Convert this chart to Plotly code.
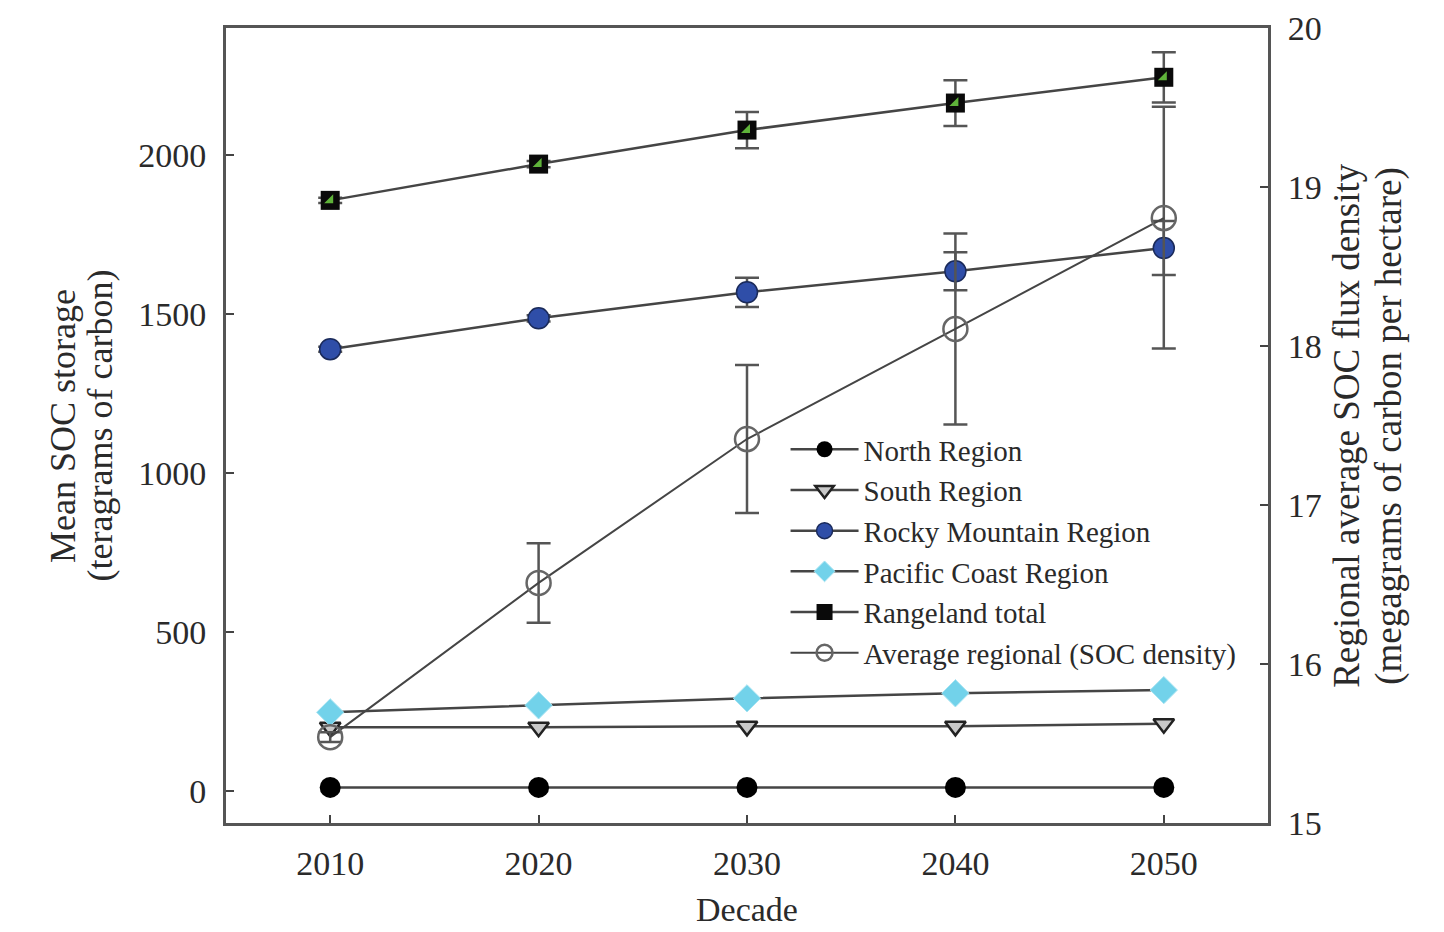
import plotly.graph_objects as go

decades = [2010, 2020, 2030, 2040, 2050]

# Mean SOC storage (teragrams of carbon), left axis
north = [12, 12, 12, 12, 12]
south = [201, 201, 204, 204, 212]
rocky = [1390, 1487, 1569, 1635, 1708]
rocky_err = [8, 10, 46, 60, 85]
pacific = [248, 270, 292, 308, 318]
rangeland = [1858, 1972, 2079, 2164, 2245]
rangeland_err = [8, 10, 57, 72, 79]

# Regional average SOC flux density (megagrams of carbon per hectare), right axis
avg_density = [15.54, 16.51, 17.415, 18.107, 18.805]
avg_err_plus = [0.03, 0.25, 0.465, 0.6, 0.7]
avg_err_minus = [0.03, 0.25, 0.465, 0.6, 0.82]

FONT = "Liberation Serif"
TEXT = "#2a2a2a"
LINE = "#454545"
ERR = "#555555"

fig = go.Figure()

fig.add_trace(go.Scatter(
    x=decades, y=avg_density, yaxis="y2", name="Average regional (SOC density)",
    mode="lines+markers",
    line=dict(color=LINE, width=2),
    marker=dict(symbol="circle-open", size=24, color="#666666", line=dict(width=2.5)),
    error_y=dict(type="data", array=avg_err_plus, arrayminus=avg_err_minus,
                 color=ERR, thickness=2.5, width=12),
))

fig.add_trace(go.Scatter(
    x=decades, y=north, name="North Region", mode="lines+markers",
    line=dict(color=LINE, width=2.5),
    marker=dict(symbol="circle", size=21, color="#000000"),
))
fig.add_trace(go.Scatter(
    x=decades, y=south, name="South Region", mode="lines+markers",
    line=dict(color=LINE, width=2.5),
    marker=dict(symbol="triangle-down", size=18, color="#c8c8c8",
                line=dict(color="#222222", width=2.5)),
))
fig.add_trace(go.Scatter(
    x=decades, y=rocky, name="Rocky Mountain Region", mode="lines+markers",
    line=dict(color=LINE, width=2.5),
    marker=dict(symbol="circle", size=21, color="#2f4ea8",
                line=dict(color="#1a2a5a", width=1.5)),
    error_y=dict(type="data", array=rocky_err, color=ERR, thickness=2.5, width=12),
))
fig.add_trace(go.Scatter(
    x=decades, y=pacific, name="Pacific Coast Region", mode="lines+markers",
    line=dict(color=LINE, width=2.5),
    marker=dict(symbol="diamond", size=21, color="#72d2ea",
                line=dict(color="#a8e4f2", width=1)),
))
fig.add_trace(go.Scatter(
    x=decades, y=rangeland, name="Rangeland total", mode="lines+markers",
    line=dict(color=LINE, width=2.5),
    marker=dict(symbol="square", size=19, color="#0a0a0a"),
    error_y=dict(type="data", array=rangeland_err, color=ERR, thickness=2.5, width=12),
))
# green inset of the rangeland marker
fig.add_trace(go.Scatter(
    x=decades, y=rangeland, mode="markers", showlegend=False, hoverinfo="skip",
    marker=dict(symbol="triangle-se", size=10, color="#5fb33a"),
))

axis_common = dict(
    ticks="inside", ticklen=8, tickwidth=2, tickcolor="#444",
    showline=True, linecolor="#555555", linewidth=3,
    showgrid=False, zeroline=False, automargin=False,
    tickfont=dict(size=34),
)

fig.update_layout(
    width=1444, height=932,
    margin=dict(l=226, r=176, t=28, b=109),
    paper_bgcolor="white", plot_bgcolor="white",
    font=dict(family=FONT, size=34, color=TEXT),
    showlegend=True,
    legend=dict(
        x=0.537, y=0.502, xanchor="left", yanchor="top",
        bgcolor="rgba(0,0,0,0)", borderwidth=0,
        font=dict(family=FONT, size=29, color=TEXT),
        itemwidth=68, tracegroupgap=0,
        traceorder="normal",
    ),
    xaxis=dict(
        range=[2005, 2055], tickvals=decades, mirror=True,
        ticklabelstandoff=8,
        **axis_common,
    ),
    yaxis=dict(
        range=[-100, 2400], tickvals=[0, 500, 1000, 1500, 2000],
        ticklabelstandoff=10,
        **axis_common,
    ),
    yaxis2=dict(
        range=[15, 20], tickvals=[15, 16, 17, 18, 19, 20],
        overlaying="y", side="right",
        ticklabelstandoff=10,
        **axis_common,
    ),
)

# axis titles, the two-line ones placed line by line
titles = [
    ("Mean SOC storage", -0.157, 0.5, -90, "middle", 36),
    ("(teragrams of carbon)", -0.121, 0.5, -90, "middle", 36),
    ("Regional average SOC flux density", 1.0752, 0.5, -90, "middle", 37),
    ("(megagrams of carbon per hectare)", 1.1155, 0.5, -90, "middle", 37),
    ("Decade", 0.5, -0.135, 0, "bottom", 34),
]
for text, xpos, ypos, ang, yanc, size in titles:
    fig.add_annotation(
        text=text, xref="paper", yref="paper", x=xpos, y=ypos,
        xanchor="center", yanchor=yanc, textangle=ang, showarrow=False,
        font=dict(family=FONT, size=size, color=TEXT),
    )

# legend order: North, South, Rocky, Pacific, Rangeland, Average
order = ["North Region", "South Region", "Rocky Mountain Region",
         "Pacific Coast Region", "Rangeland total", "Average regional (SOC density)"]
for tr in fig.data:
    if tr.name in order:
        tr.legendrank = order.index(tr.name) + 1

fig.write_html("out.html")
